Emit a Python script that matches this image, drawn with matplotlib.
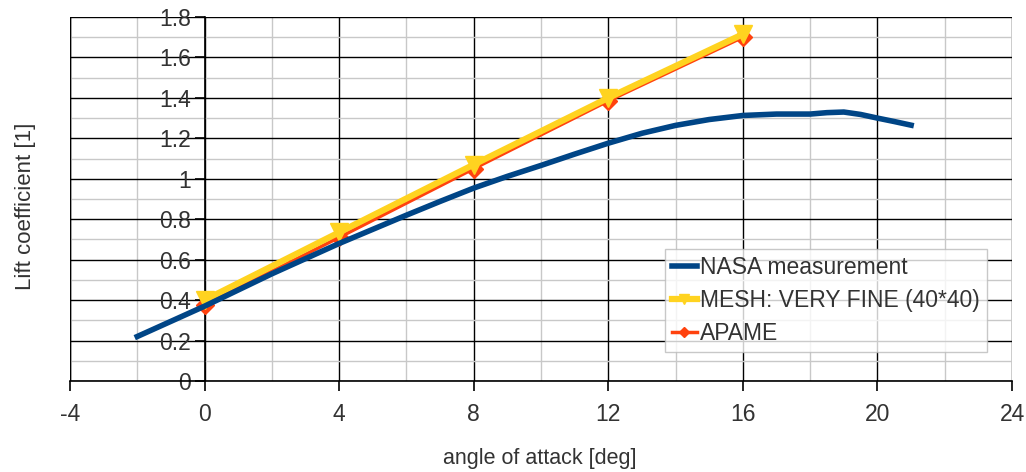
import numpy as np
import matplotlib.pyplot as plt
from matplotlib.ticker import MultipleLocator

plt.rcParams['font.family'] = ['Liberation Sans', 'DejaVu Sans']
plt.rcParams['axes.unicode_minus'] = False

nasa_aoa = [-2, -1, 0, 1, 2, 3, 4, 5, 6, 7, 8, 9, 10, 11, 12, 13, 14, 15, 16, 17, 18, 18.5, 19, 19.5,
            20, 20.5, 21]
nasa_cl = [0.22, 0.295, 0.37, 0.45, 0.53, 0.605, 0.68, 0.75, 0.82, 0.888, 0.954, 1.012, 1.066, 1.122, 1.176,
           1.225, 1.264, 1.293, 1.313, 1.32, 1.32, 1.327, 1.33, 1.318, 1.30, 1.283, 1.265]

# MESH: VERY FINE (40*40)
mesh_aoa = [0, 4, 8, 12, 16]
mesh_cl = [0.40, 0.735, 1.07, 1.40, 1.715]

# APAME
apame_aoa = [0, 4, 8, 12, 16]
apame_cl = [0.375, 0.71, 1.05, 1.385, 1.70]

xticks = [-4, 0, 4, 8, 12, 16, 20, 24]
yticks = [0, 0.2, 0.4, 0.6, 0.8, 1, 1.2, 1.4, 1.6, 1.8]
ylabels = ['0', '0.2', '0.4', '0.6', '0.8', '1', '1.2', '1.4', '1.6', '1.8']


def main():
    fig = plt.figure(figsize=(10.26, 4.72), dpi=100)
    ax = fig.add_axes([0.0682, 0.1928, 0.9182, 0.7712])

    ax.plot(apame_aoa, apame_cl, color='#FF420E', lw=2.5, marker='D', ms=9,
            label='APAME', zorder=3)
    ax.plot(mesh_aoa, mesh_cl, color='#FFD320', lw=4.5, marker='v', ms=13,
            label='MESH: VERY FINE (40*40)', zorder=4)
    ax.plot(nasa_aoa, nasa_cl, color='#004586', lw=4, label='NASA measurement', zorder=5)

    ax.set_xlim(-4, 24)
    ax.set_ylim(0, 1.8)
    ax.set_xticks(xticks)
    ax.set_yticks(yticks)
    ax.set_yticklabels(ylabels)
    ax.xaxis.set_minor_locator(MultipleLocator(2))
    ax.yaxis.set_minor_locator(MultipleLocator(0.1))

    ax.grid(which='major', color='#000000', lw=1, zorder=1)
    ax.grid(which='minor', color='#c8c8c8', lw=1, zorder=0)
    ax.set_axisbelow(True)

    ax.spines['left'].set_position(('data', 0))
    ax.spines['right'].set_visible(False)
    ax.spines['top'].set_visible(False)
    for s in ('left', 'bottom'):
        ax.spines[s].set_color('black')
        ax.spines[s].set_linewidth(1.2)
    ax.axvline(-4, color='black', lw=1, zorder=1)

    ax.tick_params(which='major', direction='out', length=7.5, width=1.2, color='black',
                   labelsize=16.5, labelcolor='#333333')
    ax.tick_params(which='minor', length=0)
    ax.tick_params(axis='x', pad=8)
    ax.tick_params(axis='y', pad=2)

    ax.set_xlabel('angle of attack [deg]', fontsize=15.5, color='#333333')
    ax.set_ylabel('Lift coefficient [1]', fontsize=16, color='#333333')
    ax.xaxis.set_label_coords(0.499, -0.185)
    ax.yaxis.set_label_coords(-0.036, 0.48)

    h, l = ax.get_legend_handles_labels()
    leg = ax.legend(h[::-1], l[::-1], loc='lower left', bbox_to_anchor=(0.648, 0.254),
                    bbox_transform=fig.transFigure, fontsize=16.5, frameon=True, fancybox=False,
                    handlelength=1.1, handletextpad=0.15, borderpad=0.3, labelspacing=0.45,
                    borderaxespad=0, markerscale=0.55)
    leg.get_frame().set_edgecolor('#bbbbbb')
    leg.get_frame().set_linewidth(1)
    for t in leg.get_texts():
        t.set_color('#333333')

    plt.savefig('out.png', dpi=100)


if __name__ == '__main__':
    main()
